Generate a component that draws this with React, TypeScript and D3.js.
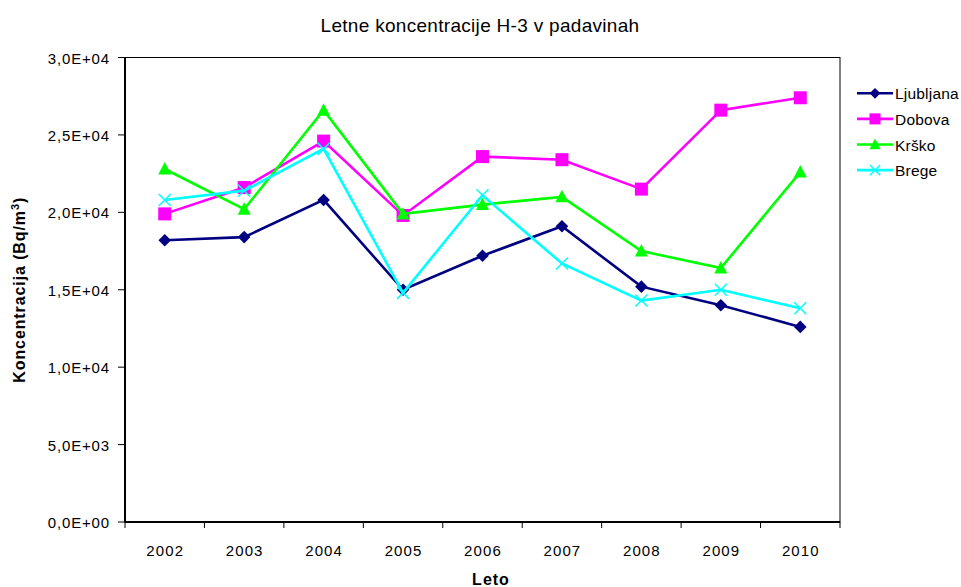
import React from "react";
import * as d3 from "d3";

const years = ["2002", "2003", "2004", "2005", "2006", "2007", "2008", "2009", "2010"];
const ljubljana = [18200, 18400, 20800, 15000, 17200, 19100, 15200, 14000, 12600];
const dobova = [19900, 21600, 24600, 19800, 23600, 23400, 21500, 26600, 27400];
const krsko = [22800, 20200, 26600, 19900, 20500, 21000, 17500, 16400, 22600];
const brege = [20800, 21400, 24100, 14800, 21100, 16700, 14300, 15000, 13800];
const yTicks = [0, 5000, 10000, 15000, 20000, 25000, 30000];
const seriesNames = ["Ljubljana", "Dobova", "Krško", "Brege"];

const W = 961, H = 587;
const L = 125, R = 840, T = 57.5, B = 522;
const FONT = "'Liberation Sans', Arial, sans-serif";

const colors = ["#000080", "#FF00FF", "#00FF00", "#00FFFF"];
const markers = ["diamond", "square", "triangle", "x"];

function Marker({ type, x, y, color, k = 1 }: { type: string; x: number; y: number; color: string; k?: number }) {
  if (type === "diamond") {
    const s = 6.3 * k;
    return <path d={`M${x},${y - s}L${x + s},${y}L${x},${y + s}L${x - s},${y}Z`} fill={color} />;
  }
  if (type === "square") {
    const s = 6.5 * k;
    return <rect x={x - s} y={y - s} width={2 * s} height={2 * s} fill={color} />;
  }
  if (type === "triangle") {
    const s = 6.5 * k;
    return <path d={`M${x},${y - 7 * k}L${x + s},${y + 5.5 * k}L${x - s},${y + 5.5 * k}Z`} fill={color} />;
  }
  const s = 6 * k;
  return (
    <path d={`M${x - s},${y - s}L${x + s},${y + s}M${x - s},${y + s}L${x + s},${y - s}`} stroke={color} strokeWidth={1.5} fill="none" />
  );
}

export default function App() {
  const x = d3.scaleBand<string>().domain(years).range([L, R]);
  const y = d3.scaleLinear().domain([0, 30000]).range([B, T]);
  const data = [ljubljana, dobova, krsko, brege];
  const cx = (i: number) => (x(years[i]) as number) + x.bandwidth() / 2;
  const line = d3
    .line<number>()
    .x((_, i) => cx(i))
    .y((d) => y(d));
  const fmt = (v: number) => {
    const s = v.toExponential(1).replace(".", ",");
    const [m, e] = s.split("e");
    const ev = parseInt(e, 10);
    return `${m}E${ev >= 0 ? "+" : "-"}${String(Math.abs(ev)).padStart(2, "0")}`;
  };
  return (
    <svg width={W} height={H} style={{ position: "absolute", left: 0, top: 0, background: "#fff" }} fontFamily={FONT}>
      <rect x={0} y={0} width={W} height={H} fill="#fff" />
      <text x={480} y={31.5} textAnchor="middle" fontSize={19} letterSpacing={0.3}>
        Letne koncentracije H-3 v padavinah
      </text>
      <rect x={L} y={T} width={R - L} height={B - T} fill="none" stroke="#000" strokeWidth={1} />
      <line x1={L} y1={T} x2={L} y2={B} stroke="#000" strokeWidth={2} />
      <line x1={L} y1={B} x2={R} y2={B} stroke="#000" strokeWidth={2} />
      {yTicks.map((t) => (
        <g key={t}>
          <line x1={L - 7} x2={L} y1={y(t)} y2={y(t)} stroke="#000" strokeWidth={1} />
          <text x={110} y={y(t) + 6} textAnchor="end" fontSize={15} letterSpacing={0.85}>
            {fmt(t)}
          </text>
        </g>
      ))}
      {years.map((yr) => (
        <g key={yr}>
          <line x1={x(yr) as number} x2={x(yr) as number} y1={B} y2={B + 6} stroke="#000" strokeWidth={1} />
          <text x={(x(yr) as number) + x.bandwidth() / 2 + 0.5} y={556} textAnchor="middle" fontSize={15} letterSpacing={1.1}>
            {yr}
          </text>
        </g>
      ))}
      <line x1={R} x2={R} y1={B} y2={B + 6} stroke="#000" strokeWidth={1} />
      <text x={491} y={585} textAnchor="middle" fontSize={16} fontWeight="bold" letterSpacing={1}>
        Leto
      </text>
      <text transform={`translate(25,${(T + B) / 2}) rotate(-90)`} textAnchor="middle" fontSize={16} fontWeight="bold" letterSpacing={0.9}>
        Koncentracija (Bq/m<tspan dy={-6} fontSize={11}>3</tspan><tspan dy={6}>)</tspan>
      </text>
      {data.map((d, si) => (
        <g key={si}>
          <path d={line(d) || ""} fill="none" stroke={colors[si]} strokeWidth={2.6} />
          {d.map((v, i) => (
            <Marker key={i} type={markers[si]} x={cx(i)} y={y(v)} color={colors[si]} />
          ))}
        </g>
      ))}
      {seriesNames.map((n, i) => {
        const ly = 93.3 + i * 25.6;
        return (
          <g key={n}>
            <line x1={857} x2={893} y1={ly} y2={ly} stroke={colors[i]} strokeWidth={2.6} />
            <Marker type={markers[i]} x={875} y={ly} color={colors[i]} k={0.85} />
            <text x={895} y={ly + 6} fontSize={15.5} letterSpacing={0.2}>
              {n}
            </text>
          </g>
        );
      })}
    </svg>
  );
}
